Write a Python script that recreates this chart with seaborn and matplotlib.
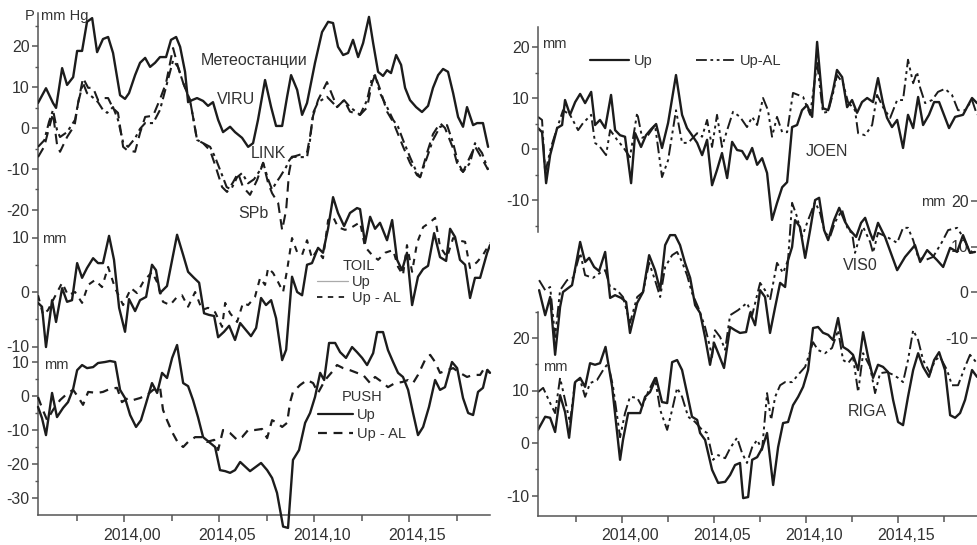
import numpy as np
import matplotlib
matplotlib.use("Agg")
import matplotlib.pyplot as plt
import matplotlib.transforms as mtransforms
from matplotlib.lines import Line2D
from matplotlib.ticker import FixedLocator, FuncFormatter
import seaborn as sns

# ---------------- data (time offset in 0.001 yr from 2014.00, value) ----------------
VIRU = [(-45.3,6.1),(-41.1,9.7),(-37.4,6.1),(-35.8,4.9),(-32.6,14.6),(-30.0,10.5),(-26.8,12.4),(-24.7,18.8),(-22.1,18.8),(-19.5,25.9),(-16.8,26.8),(-14.2,18.5),(-11.1,21.7),(-8.4,22.2),(-5.8,18.3),(-2.1,8.0),(0.5,7.1),(2.6,8.5),(5.8,12.9),(8.4,15.9),(11.1,17.1),(13.7,14.9),(16.3,15.9),(18.9,17.3),(22.1,17.3),(24.7,21.5),(27.4,22.2),(29.5,19.8),(32.1,13.7),(33.7,6.3),(35.8,6.8),(38.4,7.3),(41.6,6.6),(44.2,5.4),(46.8,6.3),(49.5,2.0),(52.1,-1.0),(55.8,0.3),(58.4,-1.0),(62.1,-2.4),(65.3,-4.6),(67.9,-3.7),(70.5,2.0),(74.2,11.7),(77.4,5.1),(80.0,0.5),(83.2,0.5),(85.8,7.6),(87.9,12.9),(91.1,9.3),(93.7,3.2),(96.3,6.1),(100.5,15.9),(104.2,23.4),(107.4,25.9),(110.0,25.6),(112.6,19.8),(115.3,17.8),(117.9,18.3),(120.5,21.5),(123.2,17.3),(125.8,20.7),(128.9,27.1),(131.1,20.7),(133.7,13.7),(136.3,12.7),(138.4,14.1),(140.5,13.4),(143.2,17.8),(145.8,15.4),(147.9,9.8),(150.5,6.8),(153.7,5.1),(156.8,3.9),(160.0,5.4),(162.6,9.8),(165.3,12.9),(167.9,14.4),(170.5,13.7),(173.2,8.5),(175.8,2.7),(178.4,0.3),(180.5,5.1),(183.7,0.7),(185.8,1.2),(188.9,1.2),(191.6,-4.6)]
LINK = [(-45.3,-4.6),(-42.0,-3.0),(-39.5,1.5),(-37.4,4.4),(-35.3,-0.5),(-33.7,-2.2),(-30.0,-1.0),(-25.8,2.0),(-24.2,6.1),(-21.6,11.0),(-19.5,8.5),(-16.8,7.6),(-13.7,6.3),(-11.1,4.4),(-8.9,3.7),(-5.8,5.1),(-3.2,2.0),(-0.5,-3.5),(2.1,-4.6),(5.8,-2.5),(8.4,-0.2),(11.1,1.2),(15.3,1.2),(18.9,4.4),(22.1,10.0),(25.8,16.5),(28.4,14.9),(31.1,11.0),(34.7,6.8),(36.3,2.7),(38.4,-2.9),(41.6,-3.7),(45.3,-4.6),(47.9,-7.1),(51.6,-11.5),(54.0,-14.4),(56.3,-15.0),(59.5,-12.0),(62.1,-11.0),(65.3,-13.5),(68.4,-12.5),(72.0,-10.0),(73.2,-8.5),(75.8,-12.5),(77.9,-15.0),(80.5,-13.0),(82.0,-12.0),(85.3,-9.5),(86.8,-8.0),(88.4,-7.0),(92.6,-7.1),(96.3,-7.1),(97.9,-2.9),(99.5,3.7),(102.1,6.3),(106.8,7.6),(112.1,5.1),(115.8,6.8),(118.9,5.1),(124.2,3.2),(127.9,6.8),(130.5,12.2),(132.1,12.9),(134.7,8.5),(138.4,5.1),(141.6,2.0),(144.2,0.3),(146.8,-2.9),(150.5,-7.1),(154.2,-11.0),(155.8,-12.0),(159.5,-7.1),(162.6,-2.9),(166.3,0.3),(170.0,0.7),(173.2,-3.7),(175.8,-8.5),(178.4,-10.7),(182.1,-8.5),(184.7,-3.7),(188.4,-6.1),(191.6,-10.2)]
SPB = [(-45.3,-7.1),(-42.0,-4.5),(-39.5,0.0),(-37.4,3.5),(-35.3,-4.0),(-33.7,-5.8),(-30.0,-2.2),(-26.0,0.7),(-24.2,6.1),(-21.6,12.2),(-18.9,9.8),(-16.3,9.8),(-13.7,6.8),(-11.1,7.3),(-8.4,7.3),(-5.8,4.8),(-3.2,3.7),(-0.5,-4.6),(1.6,-5.4),(5.8,-5.8),(8.4,-1.2),(11.1,2.7),(15.3,3.0),(18.9,7.0),(22.1,11.0),(25.8,19.5),(28.4,14.9),(31.1,11.0),(34.7,6.8),(36.3,2.7),(38.4,-2.9),(41.6,-3.7),(45.3,-5.5),(47.9,-9.0),(51.6,-14.4),(54.2,-15.6),(57.4,-13.2),(60.0,-11.0),(62.6,-14.4),(66.3,-16.3),(70.0,-12.7),(73.2,-8.5),(75.8,-13.4),(77.9,-15.9),(81.1,-18.3),(83.2,-24.9),(85.3,-20.0),(86.8,-11.0),(88.4,-7.1),(92.6,-6.5),(96.3,-6.0),(97.9,-2.0),(99.5,3.0),(102.1,6.8),(106.8,11.2),(112.1,5.1),(115.8,6.8),(118.9,4.0),(124.2,3.2),(127.9,5.0),(130.5,11.0),(132.1,12.9),(134.7,9.5),(138.4,4.0),(141.6,1.5),(144.2,-1.5),(146.8,-4.5),(150.5,-8.5),(154.2,-11.5),(155.8,-12.0),(159.5,-6.0),(162.6,-1.5),(166.3,1.2),(168.9,0.0),(173.2,-5.0),(175.8,-9.5),(178.4,-10.7),(182.1,-7.0),(184.7,-4.5),(188.4,-7.5),(191.6,-10.2)]

TOIL_UP = [(-45.3,-2.0),(-43.2,-2.7),(-41.1,-10.1),(-37.9,-1.5),(-35.8,-5.5),(-32.6,0.7),(-30.0,-1.8),(-27.4,-1.5),(-24.7,5.3),(-22.1,2.6),(-19.5,4.4),(-16.3,6.2),(-13.7,5.3),(-11.1,5.3),(-7.9,10.3),(-5.3,5.9),(-2.6,-2.9),(0.5,-7.3),(2.6,-1.3),(5.8,-3.5),(8.4,-1.5),(11.6,-0.9),(14.7,5.0),(16.8,4.0),(18.9,-0.2),(22.6,1.1),(25.3,5.9),(27.9,10.5),(31.1,6.8),(33.7,3.7),(36.8,2.6),(39.5,1.7),(42.1,-3.9),(44.7,-4.2),(47.4,-4.4),(49.5,-8.3),(52.6,-7.3),(55.3,-6.2),(58.4,-8.8),(61.1,-5.7),(63.7,-6.8),(66.8,-8.1),(69.5,-6.6),(72.1,-1.1),(74.7,-2.4),(77.4,-1.5),(80.0,-4.8),(83.2,-12.5),(85.3,-10.6),(88.4,2.8),(91.1,0.0),(93.7,-0.6),(96.3,5.0),(98.9,5.3),(102.1,8.1),(104.7,7.2),(107.4,11.7),(110.0,17.4),(112.6,14.5),(115.8,12.1),(118.9,14.5),(122.6,15.4),(124.2,15.2),(126.8,9.0),(129.5,13.8),(132.1,11.6),(134.7,12.7),(138.4,9.5),(141.1,13.2),(143.7,5.9),(146.3,4.0),(148.9,7.2),(151.6,-2.4),(154.7,2.8),(157.4,4.2),(160.0,4.8),(163.2,10.8),(166.3,6.4),(169.5,5.7),(171.6,11.6),(174.2,10.1),(176.8,5.9),(179.5,5.0),(182.1,-1.1),(184.7,2.6),(187.4,2.6),(191.1,7.2),(192.6,8.6)]
TOIL_AL = [(-45.3,-0.6),(-42.6,-4.2),(-40.0,-3.3),(-37.4,-1.5),(-32.6,1.7),(-29.5,-0.6),(-25.8,0.0),(-22.1,-2.0),(-18.9,1.3),(-15.3,2.2),(-11.6,0.9),(-8.4,4.6),(-4.7,0.7),(-0.5,-2.4),(3.7,0.7),(6.8,-0.2),(10.0,1.8),(14.7,3.7),(17.4,1.8),(20.5,-1.8),(24.2,-2.4),(27.9,-0.9),(30.5,-0.6),(33.7,-2.7),(37.4,0.0),(41.1,-3.3),(44.2,-2.9),(47.9,-3.7),(51.6,-6.4),(53.2,-2.0),(55.8,-3.9),(59.5,-5.5),(62.6,-2.0),(65.3,-2.4),(68.9,-0.9),(71.6,2.6),(74.2,1.3),(75.8,4.4),(78.4,3.5),(81.1,1.8),(83.7,0.0),(85.8,4.0),(88.4,9.9),(91.1,7.3),(93.7,6.8),(96.3,9.5),(98.9,6.2),(101.6,7.7),(104.7,6.2),(107.4,13.2),(110.0,13.8),(112.6,11.9),(116.3,11.4),(120.0,11.9),(124.2,12.8),(126.8,8.3),(130.5,6.8),(133.7,5.9),(137.4,7.2),(141.6,7.7),(144.2,4.6),(146.8,3.1),(148.9,8.6),(151.6,3.7),(154.2,9.0),(157.4,11.9),(161.1,12.8),(163.7,13.6),(166.3,8.3),(170.0,6.4),(173.2,9.9),(175.8,9.5),(179.5,9.2),(182.1,4.4),(185.8,5.5),(188.9,6.8),(192.6,9.0)]

PUSH_UP = [(-45.3,-3.2),(-43.2,-6.5),(-41.1,-11.5),(-37.9,0.9),(-35.3,-6.2),(-32.1,-3.5),(-29.5,-1.8),(-26.8,2.1),(-24.7,7.6),(-22.1,9.1),(-19.5,8.2),(-16.3,8.5),(-13.7,9.7),(-10.0,10.0),(-7.4,10.3),(-4.7,10.0),(-2.1,1.8),(0.5,-0.6),(3.2,-5.6),(6.3,-9.1),(8.9,-7.1),(11.6,-2.1),(14.7,3.8),(17.4,0.9),(20.0,6.8),(22.6,5.3),(25.3,11.2),(27.9,15.0),(31.1,3.8),(33.7,2.9),(36.3,-1.2),(38.9,-6.2),(41.6,-12.1),(45.3,-13.8),(47.9,-15.0),(50.5,-21.8),(53.2,-22.1),(55.8,-22.6),(58.4,-21.8),(61.1,-19.4),(66.3,-22.1),(72.1,-19.7),(75.3,-21.8),(77.9,-24.1),(80.5,-28.5),(83.7,-38.4),(86.3,-38.8),(88.9,-18.8),(92.1,-15.9),(95.3,-7.9),(97.9,-5.0),(100.5,-0.3),(103.2,6.8),(105.3,4.7),(107.9,15.6),(111.1,15.6),(113.7,12.9),(116.8,11.2),(120.0,14.4),(122.6,12.9),(125.3,11.2),(127.9,9.1),(131.1,12.6),(133.2,18.8),(136.3,18.8),(138.9,13.5),(141.6,10.0),(144.2,6.8),(146.8,5.6),(149.5,1.8),(152.1,-5.0),(154.7,-11.5),(157.4,-9.1),(160.5,-3.2),(163.7,4.7),(166.3,1.8),(168.9,2.6),(172.6,10.0),(175.3,8.2),(178.4,-0.6),(181.1,-5.0),(183.7,-5.6),(186.3,1.2),(188.9,2.4),(191.1,7.6),(192.6,6.8)]
PUSH_AL = [(-45.3,-0.3),(-43.2,-3.5),(-40.5,-7.1),(-37.4,-4.1),(-33.7,-1.2),(-29.5,0.9),(-26.8,1.8),(-24.2,-0.3),(-21.6,-2.6),(-18.9,1.2),(-14.2,0.9),(-11.1,1.2),(-7.4,2.1),(-3.7,2.4),(-1.1,-1.8),(2.1,-0.6),(4.7,-1.2),(8.4,-0.6),(12.1,0.3),(15.3,1.8),(18.9,2.6),(20.5,-4.1),(22.6,-7.1),(25.3,-10.6),(28.4,-13.8),(31.1,-15.0),(33.7,-13.5),(37.4,-12.1),(41.1,-12.1),(43.7,-13.5),(47.4,-12.9),(49.5,-15.9),(52.1,-10.0),(55.8,-10.9),(59.5,-12.9),(62.1,-12.1),(65.3,-10.0),(68.9,-10.0),(72.6,-9.7),(75.3,-12.4),(77.9,-7.1),(80.5,-7.9),(83.2,-9.1),(85.8,-7.9),(87.4,-1.8),(88.9,1.2),(92.6,3.2),(96.3,4.7),(99.5,3.8),(102.1,0.9),(105.8,4.7),(109.5,7.1),(112.1,9.1),(115.3,8.2),(118.9,7.6),(122.6,6.8),(125.8,6.2),(129.5,3.8),(132.1,5.6),(135.8,4.1),(138.9,2.6),(142.6,3.8),(146.3,4.1),(149.5,4.7),(152.1,3.8),(154.7,6.2),(158.4,10.6),(161.1,12.1),(163.7,10.0),(166.3,6.8),(170.0,7.6),(173.2,8.2),(176.8,6.8),(180.5,5.6),(183.7,6.2),(187.4,6.2),(190.0,8.5),(192.6,6.8)]

JOEN_UP = [(-45.7,4.1),(-43.5,3.3),(-41.3,-6.7),(-39.1,-1.2),(-35.3,4.1),(-32.6,4.7),(-31.0,9.6),(-28.3,6.7),(-25.5,9.2),(-22.8,10.8),(-20.1,9.0),(-16.8,11.2),(-14.7,4.7),(-12.0,5.7),(-9.2,4.1),(-6.0,10.6),(-3.8,3.7),(-1.1,2.7),(1.6,2.4),(4.9,-6.7),(7.1,3.1),(10.3,0.4),(13.0,2.7),(15.8,3.9),(18.5,4.9),(21.7,0.2),(25.0,5.1),(29.3,14.5),(32.6,6.7),(35.3,4.1),(38.0,2.7),(40.8,1.2),(43.5,-1.2),(46.2,1.8),(48.9,-7.1),(51.6,-4.1),(54.3,-0.8),(57.1,-5.7),(59.8,1.4),(62.5,-0.2),(65.2,-0.4),(67.9,-2.0),(70.7,0.2),(73.4,-3.1),(76.1,-1.8),(78.8,-4.7),(81.5,-13.9),(84.2,-10.6),(87.0,-7.5),(89.7,-6.5),(92.4,4.3),(95.1,4.7),(97.8,7.6),(100.5,8.6),(103.3,6.3),(106.0,21.0),(109.2,8.0),(112.0,7.6),(114.7,11.6),(116.8,15.5),(119.6,14.1),(122.3,8.2),(125.0,9.6),(127.7,7.1),(130.4,9.2),(133.2,10.0),(136.4,9.2),(139.1,13.9),(141.8,9.0),(144.0,6.1),(146.7,4.3),(149.5,5.7),(152.7,0.2),(155.4,6.7),(158.2,4.1),(160.9,10.2),(163.6,4.7),(166.8,6.7),(169.6,9.2),(172.3,9.2),(177.7,4.1),(181.0,6.3),(185.3,6.7),(187.5,8.2),(190.2,10.0),(192.9,9.0)]
JOEN_AL = [(-45.7,6.3),(-43.5,5.7),(-41.8,-4.7),(-38.6,0.4),(-35.3,4.1),(-32.1,7.6),(-28.3,6.7),(-23.9,3.7),(-21.2,5.1),(-16.8,6.7),(-14.7,1.2),(-12.0,0.4),(-8.7,-1.2),(-6.5,3.7),(-2.7,1.8),(0.5,0.4),(4.3,-1.6),(8.2,7.1),(10.9,2.2),(14.1,2.7),(17.9,4.7),(21.7,-5.5),(25.0,-2.2),(29.3,7.6),(32.6,1.2),(35.9,1.2),(40.8,3.1),(43.5,2.4),(46.2,5.7),(48.9,0.4),(51.6,6.7),(54.3,0.4),(57.1,3.7),(60.3,7.3),(64.1,6.3),(67.9,4.3),(70.7,6.3),(73.4,4.7),(76.6,10.0),(79.3,7.6),(81.5,2.4),(84.2,6.3),(87.0,3.3),(89.7,3.3),(92.9,11.0),(95.7,10.6),(98.4,10.2),(102.2,6.7),(106.0,16.9),(109.2,7.1),(112.0,7.3),(114.7,11.0),(116.8,14.5),(120.1,12.9),(122.8,9.2),(126.6,7.6),(128.3,3.1),(132.1,2.7),(135.9,4.7),(138.6,10.6),(141.8,8.2),(145.7,6.1),(149.5,9.6),(152.7,9.6),(155.4,17.5),(158.2,12.9),(160.3,15.1),(162.0,12.0),(164.7,9.0),(168.5,9.6),(171.7,11.2),(175.5,11.8),(179.3,10.6),(182.6,7.6),(186.4,7.6),(190.2,9.6),(192.9,6.7)]

VIS0_UP = [(-45.1,0.4),(-41.8,-5.1),(-39.1,-1.1),(-36.4,-13.8),(-33.7,-3.3),(-32.1,0.0),(-27.2,1.5),(-22.8,11.0),(-20.1,6.6),(-17.9,7.5),(-15.2,5.5),(-12.5,4.6),(-9.2,8.8),(-6.5,-1.3),(-3.8,-0.7),(-0.5,-1.3),(2.2,-2.2),(4.3,-9.0),(8.2,-2.4),(11.4,0.0),(14.7,8.1),(17.9,4.8),(20.7,0.4),(23.4,10.3),(26.1,12.5),(28.8,12.5),(31.5,10.3),(34.2,6.4),(37.0,3.1),(39.7,-2.9),(42.4,-4.6),(45.1,-9.9),(47.8,-16.0),(50.0,-11.2),(52.2,-13.4),(55.4,-16.7),(58.7,-7.7),(61.4,-8.4),(64.1,-9.0),(67.4,-8.8),(69.6,-4.6),(72.3,-7.3),(75.0,0.4),(77.7,-1.1),(80.4,-9.0),(83.2,-3.3),(85.9,2.0),(88.6,1.1),(90.2,7.0),(92.4,9.9),(94.0,15.8),(96.7,14.3),(99.5,7.5),(102.2,13.6),(104.9,20.2),(107.1,20.7),(109.8,13.6),(112.0,11.4),(115.2,15.8),(118.0,18.5),(121.2,15.4),(123.9,13.6),(127.2,12.1),(129.9,15.2),(132.1,16.3),(134.8,13.0),(136.4,11.4),(139.1,15.2),(142.9,12.1),(149.5,4.8),(153.8,7.7),(159.2,10.3),(162.0,6.6),(165.8,9.2),(171.2,7.0),(174.5,5.5),(178.3,9.7),(182.1,8.8),(185.3,12.5),(189.1,8.6),(191.8,8.8)]
VIS0_AL = [(-45.1,2.6),(-41.8,0.4),(-39.1,1.1),(-36.4,-9.9),(-33.7,0.4),(-29.9,2.6),(-26.6,3.1),(-22.8,8.6),(-20.1,3.7),(-15.8,3.1),(-12.0,4.2),(-9.2,4.8),(-6.5,1.1),(-2.7,0.4),(0.5,-1.1),(4.3,-6.8),(8.2,-1.1),(11.4,0.0),(14.7,6.4),(17.9,2.6),(20.7,-1.1),(23.4,5.5),(27.2,8.1),(29.9,8.8),(32.6,6.6),(35.3,3.7),(38.0,-0.2),(41.3,-3.3),(45.1,-7.7),(47.8,-12.1),(48.9,-14.3),(50.5,-8.4),(53.3,-9.9),(56.0,-12.7),(58.7,-5.1),(63.0,-4.0),(67.9,-2.4),(70.7,-5.1),(75.0,2.0),(77.7,0.4),(80.4,-1.8),(84.2,6.4),(87.5,4.2),(90.2,7.0),(92.4,19.6),(95.1,16.5),(97.8,12.1),(101.1,15.8),(104.9,19.8),(107.6,17.4),(110.3,13.0),(113.0,12.1),(115.8,15.4),(119.6,18.0),(122.8,13.6),(125.0,13.0),(126.6,8.6),(128.3,11.0),(131.0,14.3),(134.8,11.0),(136.4,8.6),(139.1,13.0),(144.0,12.1),(149.5,10.8),(152.7,14.1),(155.4,14.1),(158.2,11.4),(160.9,7.7),(164.7,7.0),(169.0,7.7),(173.9,11.0),(177.2,13.6),(182.1,14.1),(185.3,12.1),(188.0,9.7),(191.8,8.1)]

RIGA_UP = [(-45.7,2.5),(-41.8,5.0),(-39.1,4.8),(-36.4,2.1),(-33.7,9.1),(-31.0,5.9),(-28.8,1.0),(-25.5,11.6),(-22.8,12.4),(-20.1,10.7),(-17.4,15.2),(-14.7,14.9),(-12.0,15.2),(-9.0,18.3),(-5.4,10.7),(-1.1,-3.2),(0.5,0.6),(3.3,5.7),(7.1,5.7),(9.8,5.7),(12.5,8.8),(15.2,9.7),(18.5,12.4),(21.7,7.8),(24.5,7.6),(27.2,15.4),(29.9,15.8),(32.6,13.9),(35.3,9.5),(38.0,5.0),(40.8,4.4),(42.4,1.9),(45.1,0.6),(48.9,-5.1),(52.2,-7.6),(56.0,-7.4),(58.7,-6.1),(61.4,-4.2),(64.1,-3.8),(65.8,-10.5),(68.5,-10.3),(70.7,-3.2),(73.4,-2.7),(76.1,-1.0),(78.8,1.9),(82.1,-8.0),(84.8,-0.8),(87.5,3.8),(90.2,4.0),(92.9,7.2),(95.7,8.8),(98.4,10.7),(101.1,13.9),(103.8,21.9),(106.5,22.1),(109.2,21.0),(112.0,20.6),(114.7,19.6),(117.4,23.8),(120.1,18.3),(122.8,17.7),(125.5,16.8),(128.3,13.9),(131.0,21.1),(133.7,16.4),(136.4,12.4),(139.1,14.9),(141.8,14.5),(144.6,13.5),(147.3,8.2),(150.0,4.0),(152.7,3.4),(155.4,8.8),(158.2,13.9),(160.9,17.1),(163.6,14.5),(166.8,12.6),(169.6,15.8),(172.3,17.3),(175.5,13.9),(178.3,5.3),(181.0,4.8),(183.7,5.7),(186.4,8.2),(190.2,13.9),(192.9,12.6)]
RIGA_AL = [(-45.7,9.7),(-42.9,10.5),(-39.1,7.6),(-36.4,5.7),(-33.7,12.4),(-31.0,8.2),(-28.3,3.8),(-25.5,12.0),(-22.8,12.0),(-20.1,8.8),(-17.4,11.4),(-13.6,12.0),(-10.3,13.9),(-7.6,15.2),(-4.9,10.7),(-1.1,1.1),(1.6,5.7),(4.3,8.8),(8.2,8.6),(10.9,6.9),(14.1,9.7),(17.9,12.4),(20.7,6.3),(24.5,2.5),(27.2,6.3),(29.9,10.5),(32.6,8.8),(35.9,5.0),(39.7,4.0),(43.5,2.5),(46.2,1.9),(49.5,-3.2),(52.2,-2.3),(56.0,-2.9),(58.7,-1.0),(62.5,1.0),(65.2,-1.9),(67.9,-3.8),(70.7,-0.8),(73.4,0.6),(76.1,-1.3),(78.8,9.5),(81.0,4.4),(83.2,8.8),(85.9,11.0),(88.6,11.6),(92.4,11.6),(95.7,13.0),(99.5,14.5),(103.8,19.2),(106.5,17.7),(110.3,17.1),(114.1,18.1),(117.4,21.5),(120.1,15.8),(122.8,15.2),(125.5,16.4),(128.3,9.7),(131.0,17.1),(134.8,14.5),(137.5,9.5),(140.2,13.3),(144.0,13.5),(147.3,13.0),(150.0,12.4),(152.7,11.6),(155.4,15.8),(158.2,21.5),(160.9,19.6),(163.6,15.8),(167.4,13.3),(170.1,15.8),(172.8,16.4),(176.6,13.9),(179.3,11.0),(182.6,11.0),(186.4,14.5),(189.1,16.8),(192.9,15.2)]

X_MAJOR = [2014.00, 2014.05, 2014.10, 2014.15]
X_MINOR = [2013.975, 2014.025, 2014.075, 2014.125, 2014.175]

# ---------------- style ----------------
sns.set_theme(style="white")
plt.rcParams['font.family'] = ['Liberation Sans', 'DejaVu Sans']
plt.rcParams['axes.unicode_minus'] = False
INK = '#1c1c1c'
TXT = '#333333'
AX = '#555555'
TICK_FS = 11.5
LAB_FS = 11.5
SMALL_FS = 10.5

W, H = 977, 545
fig = plt.figure(figsize=(W / 100, H / 100), dpi=100)


def rect(x0, y0, x1, y1):
    return [x0 / W, 1 - y1 / H, (x1 - x0) / W, (y1 - y0) / H]


def to_years(pairs):
    return 2014 + np.array([p[0] for p in pairs]) / 1000.0


def vals(pairs):
    return np.array([p[1] for p in pairs])


LEFT = (38, 13, 490, 515)
RIGHT = (538, 27, 977, 516)
XL_LEFT = (2014 - 0.0453, 2014 + 0.1926)
XL_RIGHT = (2014 - 0.0457, 2014 + 0.1929)


def make_frame(box, xlim, show_left):
    ax = fig.add_axes(rect(*box))
    ax.patch.set_alpha(0)
    ax.set_xlim(*xlim)
    ax.set_ylim(0, 1)
    for s in ['top', 'right']:
        ax.spines[s].set_visible(False)
    ax.spines['left'].set_visible(show_left)
    for s in ['left', 'bottom']:
        ax.spines[s].set_color(AX)
        ax.spines[s].set_linewidth(1.1)
    ax.xaxis.set_major_locator(FixedLocator(X_MAJOR))
    ax.xaxis.set_minor_locator(FixedLocator(X_MINOR))
    ax.xaxis.set_major_formatter(FuncFormatter(lambda v, _: f"{v:.2f}".replace('.', ',')))
    ax.tick_params(axis='x', which='both', bottom=True, direction='out', color=AX,
                   labelsize=TICK_FS, labelcolor=TXT, pad=4)
    ax.tick_params(axis='x', which='major', length=5, width=1.1)
    ax.tick_params(axis='x', which='minor', length=4, width=1.1)
    ax.set_yticks([])
    ax.set_xlabel('')
    ax.set_ylabel('')
    off = mtransforms.ScaledTranslation(8 / 100, 0, fig.dpi_scale_trans)
    for t in ax.xaxis.get_major_ticks():
        t.label1.set_transform(t.label1.get_transform() + off)
    return ax


def make_panel(box, xlim, zero_px, px_per_unit, majors, minors, spine=None, at_right=False):
    ax = fig.add_axes(rect(*box))
    ax.patch.set_alpha(0)
    top_px, bot_px = box[1], box[3]
    ax.set_xlim(*xlim)
    ax.set_ylim((zero_px - bot_px) / px_per_unit, (zero_px - top_px) / px_per_unit)
    for s in ['top', 'right', 'bottom']:
        ax.spines[s].set_visible(False)
    if at_right:
        ax.spines['left'].set_position(('axes', 1.0))
    if spine is None:
        ax.spines['left'].set_visible(False)
    else:
        ax.spines['left'].set_bounds(*spine)
        ax.spines['left'].set_color(AX)
        ax.spines['left'].set_linewidth(1.1)
    ax.set_xticks([])
    ax.yaxis.set_major_locator(FixedLocator(majors))
    ax.yaxis.set_minor_locator(FixedLocator(minors))
    ax.tick_params(axis='y', which='both', left=True, direction='out', color=AX,
                   labelsize=TICK_FS, labelcolor=TXT, pad=2)
    ax.tick_params(axis='y', which='major', length=4, width=1.1)
    ax.tick_params(axis='y', which='minor', length=2.5, width=1.0)
    ax.set_xlabel('')
    ax.set_ylabel('')
    return ax


def draw(ax, pairs, dashes=None, lw=1.5, clip=True, color=INK):
    sns.lineplot(x=to_years(pairs), y=vals(pairs), ax=ax, color=color, linewidth=lw,
                 estimator=None, sort=False, legend=False)
    ln = ax.lines[-1]
    if dashes is not None:
        ln.set_dashes(dashes)
    ln.set_clip_on(clip)
    return ln


DASHDOT = (5, 2, 1.5, 2)
DASHED = (5, 3)
SHORTDASH = (3, 3)
DASHDOTDOT = (6, 2, 1.5, 2, 1.5, 2)

# ---------------- left column ----------------
frame_l = make_frame(LEFT, XL_LEFT, True)
ax_met = make_panel(LEFT, XL_LEFT, 128, 4.1, [20, 10, 0, -10, -20], [25, 15, 5, -5, -15])
ax_toil = make_panel(LEFT, XL_LEFT, 292, 5.45, [10, 0, -10], [5, -5])
ax_push = make_panel(LEFT, XL_LEFT, 396, 3.4, [10, 0, -10, -20, -30], [5, -5, -15, -25])

draw(ax_met, SPB, DASHED, lw=1.5)
draw(ax_met, LINK, DASHDOT, lw=1.5)
draw(ax_met, VIRU, None, lw=1.7)

draw(ax_toil, TOIL_AL, SHORTDASH, lw=1.5)
draw(ax_toil, TOIL_UP, None, lw=1.7)

draw(ax_push, PUSH_AL, (4, 3), lw=1.6, clip=False)
draw(ax_push, PUSH_UP, None, lw=1.7, clip=False)

# ---------------- right column ----------------
frame_r = make_frame(RIGHT, XL_RIGHT, False)
ax_joen = make_panel(RIGHT, XL_RIGHT, 149, 5.1, [20, 10, 0, -10], [15, 5, -5, -15],
                     spine=(-16.3, 23.9))
ax_vis = make_panel(RIGHT, XL_RIGHT, 292, 4.55, [20, 10, 0, -10], [], at_right=True)
ax_riga = make_panel(RIGHT, XL_RIGHT, 443, 5.25, [20, 10, 0, -10], [25, 15, 5, -5],
                     spine=(-13.9, 25))

draw(ax_joen, JOEN_AL, DASHDOTDOT, lw=1.4)
draw(ax_joen, JOEN_UP, None, lw=1.7)
draw(ax_vis, VIS0_AL, DASHDOTDOT, lw=1.4)
draw(ax_vis, VIS0_UP, None, lw=1.7)
draw(ax_riga, RIGA_AL, DASHDOTDOT, lw=1.4)
draw(ax_riga, RIGA_UP, None, lw=1.7)

# ---------------- legends ----------------
leg_kw = dict(frameon=False, fontsize=SMALL_FS, title_fontsize=SMALL_FS, handletextpad=0.3,
              borderpad=0, borderaxespad=0, loc='upper left',
              bbox_transform=fig.transFigure)

h_toil = [Line2D([], [], color='#aaaaaa', lw=0.9), Line2D([], [], color=INK, lw=1.3, dashes=SHORTDASH)]
lg = ax_toil.legend(h_toil, ['Up', 'Up - AL'], title='TOIL', handlelength=2.1, labelspacing=0.15,
                    bbox_to_anchor=(317 / W, 1 - 259 / H), **leg_kw)
lg.get_title().set_color(TXT)
for t in lg.get_texts():
    t.set_color(TXT)

h_push = [Line2D([], [], color=INK, lw=1.6), Line2D([], [], color=INK, lw=1.6, dashes=(4, 3))]
lg = ax_push.legend(h_push, ['Up', 'Up - AL'], title='PUSH', handlelength=2.4, labelspacing=0.3,
                    bbox_to_anchor=(318 / W, 1 - 390 / H), **leg_kw)
lg.get_title().set_color(TXT)
for t in lg.get_texts():
    t.set_color(TXT)

h_r = [Line2D([], [], color=INK, lw=1.6), Line2D([], [], color=INK, lw=1.3, dashes=DASHDOTDOT)]
lg = ax_joen.legend(h_r, ['Up', 'Up-AL'], ncol=2, handlelength=2.7, columnspacing=3.0,
                    bbox_to_anchor=(590 / W, 1 - 54 / H), **leg_kw)
for t in lg.get_texts():
    t.set_color(TXT)


# ---------------- labels ----------------
def label(x, y, s, size=LAB_FS, ha='center'):
    fig.text(x / W, 1 - y / H, s, fontsize=size, color=TXT, ha=ha, va='center')


label(254, 60, 'Метеостанции')
label(236, 100, 'VIRU')
label(268, 153, 'LINK')
label(253, 213, 'SPb')
label(827, 151, 'JOEN')
label(860, 265, 'VIS0')
label(867, 412, 'RIGA')
label(30, 16, 'P', size=SMALL_FS)
label(41, 16, 'mm Hg', size=SMALL_FS, ha='left')
label(42, 239, 'mm', size=SMALL_FS, ha='left')
label(44, 365, 'mm', size=SMALL_FS, ha='left')
label(542, 44, 'mm', size=SMALL_FS, ha='left')
label(543, 367, 'mm', size=SMALL_FS, ha='left')
label(946, 202, 'mm', size=SMALL_FS, ha='right')

fig.savefig('out.png', dpi=100, facecolor='white')
